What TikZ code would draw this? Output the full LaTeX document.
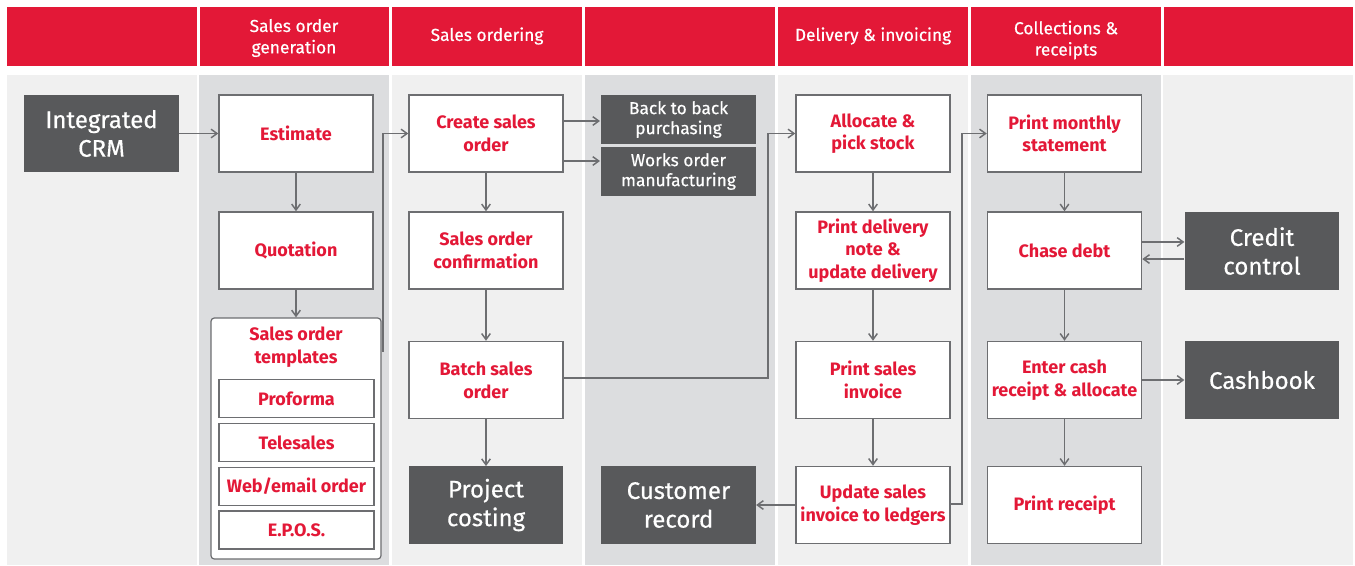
\documentclass[tikz,border=0pt]{standalone}
\usepackage{fontspec}
\setmainfont{Fira Sans}
\newfontfamily\medfont{Fira Sans}[FakeBold=0.45]
\usetikzlibrary{arrows.meta}
\definecolor{redc}{HTML}{E31837}
\definecolor{darkc}{HTML}{58595B}
\definecolor{lightc}{HTML}{F0F0F0}
\definecolor{midc}{HTML}{DCDDDF}
\definecolor{linec}{HTML}{6D6E71}
\begin{document}
\begin{tikzpicture}[x=0.75pt,y=-0.75pt,
  box/.style={draw=linec,line width=1.1pt,fill=white,text=redc,
    font=\fontsize{13.5}{17}\selectfont\bfseries,align=center,inner sep=0pt,
    minimum width=115.5pt,minimum height=57.75pt},
  smallbox/.style={box,minimum width=116pt,minimum height=28.5pt},
  darkbox/.style={fill=darkc,text=white,font=\medfont\fontsize{18}{21.5}\selectfont,
    align=center,inner sep=0pt,minimum width=116pt,minimum height=58pt},
  darksmall/.style={darkbox,font=\medfont\fontsize{13}{15}\selectfont,minimum height=36.75pt},
  head/.style={text=white,font=\medfont\fontsize{13}{16}\selectfont,align=center},
  arr/.style={draw=linec,line width=1.1pt,-{Straight Barb[length=4.5pt,width=6.5pt,line width=1.1pt]}},
  ln/.style={draw=linec,line width=1.1pt}]
\useasboundingbox (0,0) rectangle (1355,565);
\fill[white] (0,0) rectangle (1355,565);
% header
\foreach \a/\b in {7/197,200/389,392/582,585/775,778/968,971/1161,1164/1353}{
  \fill[redc] (\a,7) rectangle (\b,66);}
% body columns
\fill[lightc] (7,75) rectangle (197,565);
\fill[midc] (199,75) rectangle (389,565);
\fill[lightc] (392,75) rectangle (582,565);
\fill[midc] (585,75) rectangle (775,565);
\fill[lightc] (778,75) rectangle (968,565);
\fill[midc] (971,75) rectangle (1161,565);
\fill[lightc] (1163,75) rectangle (1353,565);
% header labels
\node[head] (h1) at (294,38) {Sales order\\generation};
\node[head] (h2) at (487,36) {Sales ordering};
\node[head] (h4) at (873,36) {Delivery \& invoicing};
\node[head] (h5) at (1066,40) {Collections \&\\receipts};
% column 0
\node[darkbox] (crm) at (101.5,133.5) {Integrated\\CRM};
% column 1
\node[box] (est) at (296,133.5) {Estimate};
\node[box] (quo) at (296,250.5) {Quotation};
\node[draw=linec,line width=0.9pt,fill=white,rounded corners=2.5pt,inner sep=0pt,
  minimum width=127.5pt,minimum height=180.75pt] (tmpl) at (296,438.5) {};
\node[text=redc,font=\fontsize{13.5}{17}\selectfont\bfseries,align=center] (ttl) at (296,347) {Sales order\\templates};
\node[smallbox] (pro) at (296.5,398.5) {Proforma};
\node[smallbox] (tel) at (296.5,442.5) {Telesales};
\node[smallbox] (web) at (296.5,486.5) {Web/email order};
\node[smallbox] (epos) at (296.5,530) {E.P.O.S.};
% column 2
\node[box] (cso) at (486,133.5) {Create sales\\order};
\node[box] (conf) at (486,250.5) {Sales order\\confirmation};
\node[box] (batch) at (486,380) {Batch sales\\order};
\node[darkbox] (proj) at (486,505) {Project\\costing};
% column 3
\node[darksmall] (b2b) at (678.5,119.5) {Back to back\\purchasing};
\node[darksmall] (works) at (678.5,171.5) {Works order\\manufacturing};
\node[darkbox] (cust) at (678.5,505) {Customer\\record};
% column 4
\node[box] (alloc) at (873,133.5) {Allocate \&\\pick stock};
\node[box] (pdel) at (873,250.5) {Print delivery\\note \&\\update delivery};
\node[box] (psi) at (873,380) {Print sales\\invoice};
\node[box] (usi) at (873,505) {Update sales\\invoice to ledgers};
% column 5
\node[box] (pms) at (1064.5,133.5) {Print monthly\\statement};
\node[box] (chase) at (1064.5,250.5) {Chase debt};
\node[box] (ecash) at (1064.5,380) {Enter cash\\receipt \& allocate};
\node[box] (prec) at (1064.5,505) {Print receipt};
% column 6
\node[darkbox] (credit) at (1262,251) {Credit\\control};
\node[darkbox] (cash) at (1262,380) {Cashbook};
% helper coordinates
\coordinate (t1) at (383,351);
\coordinate (w1) at (600,161);
\coordinate (p1) at (600,121);
\coordinate (b1) at (768,378);
\coordinate (u1) at (962,504);
% connectors
\draw[arr] (crm) -- (est);
\draw[arr] (est) -- (quo);
\draw[arr] (quo) -- (tmpl);
\draw[arr] (tmpl.east |- t1) -- (t1) -- (t1 |- cso) -- (cso.west);
\draw[arr] (cso.east |- p1) -- (p1);
\draw[arr] (cso.east |- w1) -- (w1);
\draw[arr] (cso) -- (conf);
\draw[arr] (conf) -- (batch);
\draw[arr] (batch) -- (proj);
\draw[arr] (batch.east |- b1) -- (b1) -- (b1 |- alloc) -- (alloc.west);
\draw[arr] (alloc) -- (pdel);
\draw[arr] (pdel) -- (psi);
\draw[arr] (psi) -- (usi);
\draw[arr] (usi) -- (cust);
\draw[arr] (usi.east |- u1) -- (u1) -- (u1 |- pms) -- (pms.west);
\draw[arr] (pms) -- (chase);
\draw[arr] (chase) -- (ecash);
\draw[arr] (ecash) -- (prec);
\draw[arr] ([yshift=6.4pt]chase.east) -- ([yshift=6.4pt]chase.east -| credit.west);
\draw[arr] ([yshift=-6.4pt]chase.east -| credit.west) -- ([yshift=-6.4pt]chase.east);
\draw[arr] (ecash) -- (cash);
\end{tikzpicture}
\end{document}
